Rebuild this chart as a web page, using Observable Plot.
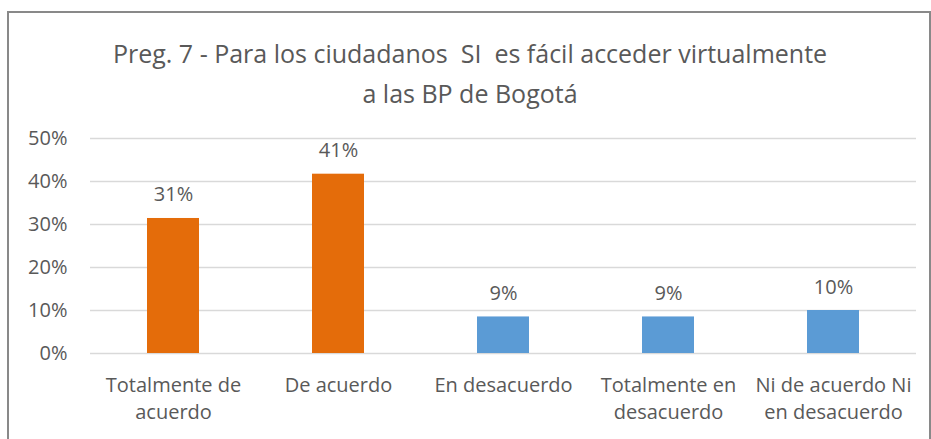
<!DOCTYPE html>
<html>
<head>
<meta charset="utf-8">
<script src="https://cdn.jsdelivr.net/npm/d3@7"></script>
<script src="https://cdn.jsdelivr.net/npm/@observablehq/plot@0.6"></script>
<style>
  body { margin: 0; background: #fff; width: 931px; height: 439px; overflow: hidden; position: relative; font-family: "Open Sans", sans-serif; }
  #frame { position: absolute; left: 7px; top: 11px; width: 924px; height: 440px; border: 2px solid #898989; box-sizing: border-box; }
  #title { position: absolute; left: 8px; width: 924px; top: 33px; text-align: center; color: #595959; font-size: 25px; line-height: 40px; white-space: pre; font-family: "Open Sans", sans-serif; }
  #chart { position: absolute; left: 0; top: 0; }
</style>
</head>
<body>
<div id="frame"></div>
<div id="title">Preg. 7 - Para los ciudadanos  SI  es fácil acceder virtualmente
a las BP de Bogotá</div>
<div id="chart"></div>
<script>
const categories = ["Totalmente de acuerdo", "De acuerdo", "En desacuerdo", "Totalmente en desacuerdo", "Ni de acuerdo Ni en desacuerdo"];
const tickLabels = ["Totalmente de\nacuerdo", "De acuerdo", "En desacuerdo", "Totalmente en\ndesacuerdo", "Ni de acuerdo Ni\nen desacuerdo"];
const values = [0.314, 0.417, 0.085, 0.085, 0.100];
const valueLabels = ["31%", "41%", "9%", "9%", "10%"];
const groups = ["acuerdo", "acuerdo", "otro", "otro", "otro"];
const yTicks = [0, 0.1, 0.2, 0.3, 0.4, 0.5];

const data = categories.map((c, i) => ({cat: c, value: values[i], label: valueLabels[i], group: groups[i]}));
const labelOf = new Map(categories.map((c, i) => [c, tickLabels[i]]));

const plot = Plot.plot({
  width: 931,
  height: 439,
  marginLeft: 90,
  marginRight: 15,
  marginTop: 138,
  marginBottom: 86,
  style: {fontFamily: "'Open Sans', sans-serif", fontSize: "20px", color: "#595959", background: "transparent", overflow: "visible"},
  x: {domain: categories, paddingInner: 0.685, paddingOuter: 0.3425, label: null},
  y: {domain: [0, 0.5], label: null},
  color: {domain: ["acuerdo", "otro"], range: ["#E46C0A", "#5B9BD5"]},
  marks: [
    Plot.gridY(yTicks, {stroke: "#d9d9d9", strokeOpacity: 1, strokeWidth: 1.5}),
    Plot.axisY(yTicks, {tickSize: 0, tickPadding: 23, tickFormat: d3.format(".0%"), fontSize: 20, fill: "#595959"}),
    Plot.axisX({tickSize: 0, tickPadding: 20, tickFormat: d => labelOf.get(d), fontSize: 20, lineHeight: 1.32, fill: "#595959"}),
    Plot.barY(data, {x: "cat", y: "value", fill: "group"}),
    Plot.text(data, {x: "cat", y: "value", text: "label", dy: -17, lineAnchor: "bottom", fontSize: 20, fill: "#595959"})
  ]
});
document.getElementById("chart").append(plot);
</script>
</body>
</html>
